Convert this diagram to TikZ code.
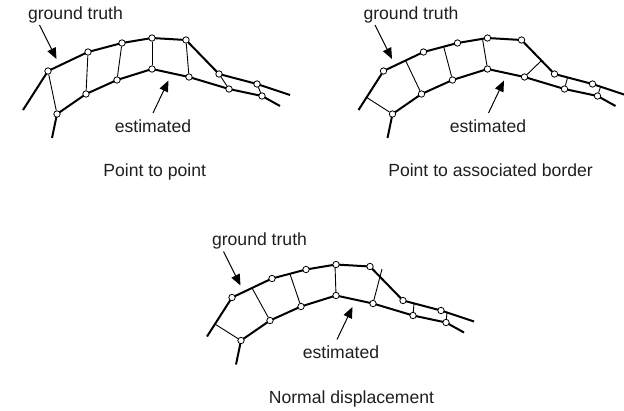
\documentclass[tikz,border=0pt]{standalone}
\usepackage{fontspec}
\setmainfont{Liberation Sans}
\usetikzlibrary{calc,arrows.meta,backgrounds}
\tikzset{
  curve/.style={line width=2pt, line join=round},
  corr/.style={line width=0.9pt},
  pt/.style={circle, draw, line width=0.8pt, fill=white, inner sep=0pt, minimum size=6.4pt},
  lab/.style={font=\fontsize{17.6}{20}\selectfont, text=black!88, inner sep=0pt, anchor=base},
  arr/.style={line width=1pt, -{Triangle[length=11pt,width=9pt]}},
}
% #1 = prefix, #2 = x of the "estimated" label
\newcommand\curvepanel[2]{%
  \coordinate (#1g0) at (23,110);
  \node[pt] (#1G1) at (48,71) {};
  \node[pt] (#1G2) at (88,52) {};
  \node[pt] (#1G3) at (122,43) {};
  \node[pt] (#1G4) at (152,38) {};
  \node[pt] (#1G5) at (186,40) {};
  \node[pt] (#1G6) at (219,74) {};
  \node[pt] (#1G7) at (257,84) {};
  \coordinate (#1g8) at (290,95);
  \coordinate (#1e0) at (52,138);
  \node[pt] (#1E1) at (57,114) {};
  \node[pt] (#1E2) at (86,94) {};
  \node[pt] (#1E3) at (117,80) {};
  \node[pt] (#1E4) at (152,69) {};
  \node[pt] (#1E5) at (189,77) {};
  \node[pt] (#1E6) at (229,89) {};
  \node[pt] (#1E7) at (262,96) {};
  \coordinate (#1e8) at (280,106);
  \begin{pgfonlayer}{background}
    \draw[curve] (#1g0) -- (#1G1.center) -- (#1G2.center) -- (#1G3.center) -- (#1G4.center)
      -- (#1G5.center) -- (#1G6.center) -- (#1G7.center) -- (#1g8);
    \draw[curve] (#1e0) -- (#1E1.center) -- (#1E2.center) -- (#1E3.center) -- (#1E4.center)
      -- (#1E5.center) -- (#1E6.center) -- (#1E7.center) -- (#1e8);
  \end{pgfonlayer}
  \node[lab] (#1gtl) at (75.5,19) {ground truth};
  \node[lab] (#1esl) at (#2,132) {estimated};
  \coordinate (#1ga) at (39.5,25);
  \coordinate (#1gb) at (56.5,59);
  \coordinate (#1ea) at (153,113);
  \coordinate (#1eb) at (168.5,80.5);
  \draw[arr] (#1ga) -- (#1gb);
  \draw[arr] (#1ea) -- (#1eb);
}
\begin{document}
\begin{tikzpicture}[x=1pt,y=-1pt]
\useasboundingbox (0,0) rectangle (624,410);

% Panel 1: point to point
\begin{scope}
  \curvepanel{a}{153}
  \begin{pgfonlayer}{background}
    \foreach \i in {1,...,7} { \draw[corr] (aG\i) -- (aE\i); }
  \end{pgfonlayer}
\end{scope}

% Panel 2: point to associated border
\begin{scope}[shift={(335.5,0)}]
  \curvepanel{b}{152.5}
  \begin{pgfonlayer}{background}
    \draw[corr] (bE1) -- ($(bg0)!(bE1)!(bG1)$);
    \draw[corr] (bE2) -- ($(bG1)!(bE2)!(bG2)$);
    \draw[corr] (bE3) -- ($(bG2)!(bE3)!(bG3)$);
    \draw[corr] (bE4) -- ($(bG3)!(bE4)!(bG4)$);
    \draw[corr] (bE5) -- ($(bG5)!(bE5)!(bG6)$);
    \draw[corr] (bE6) -- ($(bG6)!(bE6)!(bG7)$);
    \draw[corr] (bE7) -- ($(bG7)!(bE7)!(bg8)$);
  \end{pgfonlayer}
\end{scope}

% Panel 3: normal displacement
\begin{scope}[shift={(184,226.5)}]
  \curvepanel{c}{157}
  \coordinate (cn1) at (31,97.6);
  \coordinate (cn2) at (68,61.5);
  \coordinate (cn3) at (106,47.5);
  \coordinate (cn4) at (151,38.2);
  \coordinate (cn5) at (198,42.5);
  \coordinate (cn6) at (230,77);
  \coordinate (cn7) at (263,86);
  \begin{pgfonlayer}{background}
    \foreach \i in {1,...,7} { \draw[corr] (cE\i) -- (cn\i); }
  \end{pgfonlayer}
\end{scope}

\node[lab] (cap1) at (154.7,176) {Point to point};
\node[lab] (cap2) at (490.5,176) {Point to associated border};
\node[lab] (cap3) at (351.5,403) {Normal displacement};
\end{tikzpicture}
\end{document}
